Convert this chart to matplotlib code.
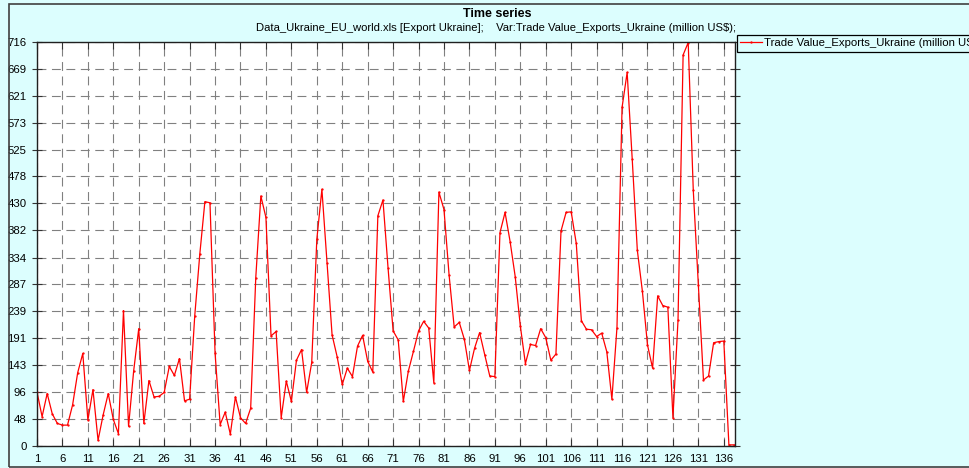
import matplotlib
matplotlib.use("Agg")
import matplotlib.pyplot as plt
from matplotlib.patches import Rectangle
import numpy as np

plt.rcParams['font.family'] = ['Liberation Sans', 'DejaVu Sans']

# ---- data ----
values = [96, 52, 93, 57, 40, 37, 37, 73, 130, 164,
          46, 100, 10, 55, 93, 47, 22, 240, 35, 133,
          208, 40, 116, 87, 88, 95, 141, 125, 155, 80,
          83, 230, 340, 433, 431, 165, 38, 60, 21, 87,
          50, 40, 67, 298, 443, 405, 195, 203, 50, 115,
          79, 152, 171, 95, 148, 366, 455, 325, 197, 158,
          109, 138, 123, 177, 196, 150, 131, 408, 436, 316,
          204, 188, 79, 133, 168, 204, 221, 209, 112, 450,
          419, 303, 211, 219, 189, 134, 173, 201, 162, 124,
          123, 378, 414, 362, 300, 213, 146, 180, 178, 208,
          192, 152, 163, 381, 414, 415, 359, 222, 207, 206,
          194, 200, 167, 83, 210, 600, 662, 508, 347, 274,
          179, 138, 266, 249, 246, 50, 223, 693, 715, 453,
          285, 117, 124, 183, 185, 186, 2, 2]
index = list(range(1, len(values) + 1))
y_ticks = [0, 48, 96, 143, 191, 239, 287, 334, 382, 430, 478, 525, 573, 621, 669, 716]
x_ticks = list(range(1, 137, 5))
series_name = "Trade Value_Exports_Ukraine (million US$)"
title = "Time series"
subtitle = "Data_Ukraine_EU_world.xls [Export Ukraine];    Var:Trade Value_Exports_Ukraine (million US$);"

W, H = 969, 468
bg = '#DCFEFE'
fig = plt.figure(figsize=(W / 100, H / 100), dpi=100, facecolor=bg)

# outer frame
fig.patches.append(Rectangle((9 / W, 1 - 467 / H), 1.0, (467 - 4) / H,
                             transform=fig.transFigure, fill=False,
                             edgecolor='#404040', linewidth=1.2))

ax = fig.add_axes([37 / W, 1 - 446 / H, (735 - 37) / W, (446 - 42) / H])
ax.set_facecolor('white')
ax.plot(index, values, color='#FF0000', linewidth=0.9, marker='.', markersize=1.3,
        label=series_name)

ax.set_xlim(1, 138.2)
ax.set_ylim(0, 716)
ax.set_xticks(x_ticks)
ax.set_xticklabels([str(t) for t in x_ticks])
ax.set_yticks(y_ticks)
ax.set_yticklabels([str(t) for t in y_ticks])
ax.tick_params(axis='both', direction='in', length=5, width=0.8, color='#333333',
               top=True, right=True, labelsize=8.2, pad=4)
ax.tick_params(axis='y', which='both', left=True, direction='inout', length=7)
ax.tick_params(axis='x', pad=6)
ax.grid(True, color='#808080', linewidth=0.8, linestyle=(0, (8, 5)))
for s in ax.spines.values():
    s.set_color('#202020')
    s.set_linewidth(1.0)

fig.text(497 / W, 1 - 14 / H, title, ha='center', va='center', fontsize=9,
         fontweight='bold', family=['Liberation Sans Narrow', 'Liberation Sans', 'DejaVu Sans'])
fig.text(496 / W, 1 - 28 / H, subtitle, ha='center', va='center', fontsize=8.1,
         family=['Liberation Sans Narrow', 'Liberation Sans', 'DejaVu Sans'])

leg = ax.legend(loc='upper left', bbox_to_anchor=(737 / W, 1 - 35 / H),
                bbox_transform=fig.transFigure, fontsize=8.2, frameon=True,
                fancybox=False, edgecolor='black', facecolor=bg, framealpha=1,
                handlelength=1.9, handletextpad=0.2, borderpad=0.3,
                borderaxespad=0)
leg.get_frame().set_linewidth(0.9)

fig.savefig('out.png', dpi=100, facecolor=bg)
